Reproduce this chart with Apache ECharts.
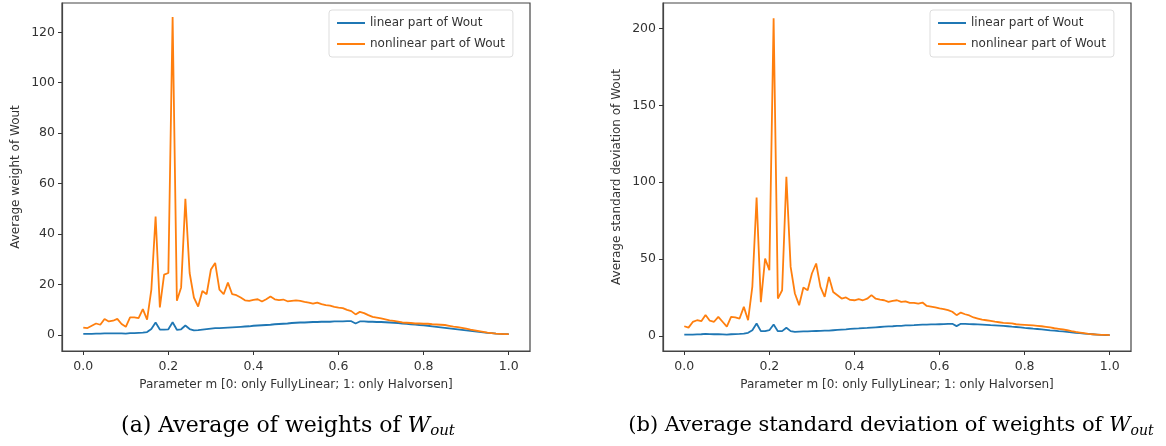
<!DOCTYPE html>
<html>
<head>
<meta charset="utf-8">
<script src="https://cdn.jsdelivr.net/npm/echarts@6/dist/echarts.min.js"></script>
<style>
  html, body { margin: 0; padding: 0; background: #fff; }
  #chart { width: 1166px; height: 446px; }
</style>
</head>
<body>
<div id="chart"></div>
<script>
// parameter m (x values, step 0.01)
const mValues = [
  0.00,0.01,0.02,0.03,0.04,0.05,0.06,0.07,0.08,0.09,
  0.10,0.11,0.12,0.13,0.14,0.15,0.16,0.17,0.18,0.19,
  0.20,0.21,0.22,0.23,0.24,0.25,0.26,0.27,0.28,0.29,
  0.30,0.31,0.32,0.33,0.34,0.35,0.36,0.37,0.38,0.39,
  0.40,0.41,0.42,0.43,0.44,0.45,0.46,0.47,0.48,0.49,
  0.50,0.51,0.52,0.53,0.54,0.55,0.56,0.57,0.58,0.59,
  0.60,0.61,0.62,0.63,0.64,0.65,0.66,0.67,0.68,0.69,
  0.70,0.71,0.72,0.73,0.74,0.75,0.76,0.77,0.78,0.79,
  0.80,0.81,0.82,0.83,0.84,0.85,0.86,0.87,0.88,0.89,
  0.90,0.91,0.92,0.93,0.94,0.95,0.96,0.97,0.98,0.99,
  1.00
];

// (a) average weight
const avgLinear = [
  0.5,0.5,0.5,0.6,0.6,0.7,0.7,0.7,0.7,0.7,
  0.6,0.8,0.8,0.9,1.0,1.2,2.4,5.0,2.2,2.2,
  2.3,5.1,2.1,2.3,3.8,2.4,1.9,2.0,2.2,2.4,
  2.6,2.8,2.8,2.9,3.0,3.1,3.2,3.3,3.4,3.5,
  3.7,3.8,3.9,4.0,4.1,4.3,4.4,4.5,4.6,4.8,
  4.9,5.0,5.0,5.1,5.2,5.2,5.3,5.3,5.3,5.4,
  5.4,5.4,5.5,5.5,4.6,5.4,5.4,5.3,5.3,5.2,
  5.2,5.1,5.0,4.9,4.8,4.6,4.5,4.3,4.2,4.0,
  3.9,3.7,3.5,3.3,3.1,2.9,2.7,2.5,2.3,2.1,
  1.9,1.7,1.5,1.3,1.1,0.9,0.8,0.6,0.5,0.4,
  0.4
];
const avgNonlinear = [
  3.0,2.8,3.7,4.6,4.1,6.4,5.4,5.7,6.4,4.4,
  3.3,7.0,7.0,6.7,10.3,6.1,18,47,11,24,
  24.6,126,13.6,18.9,54,24.6,14.9,11.3,17.5,16.2,
  26,28.6,18,16.2,20.8,16.2,15.8,14.9,13.8,13.6,
  14.0,14.2,13.3,14.2,15.3,14.2,13.9,14.1,13.4,13.6,
  13.8,13.6,13.2,12.9,12.5,12.9,12.3,11.9,11.7,11.2,
  10.9,10.7,10.0,9.5,8.2,9.2,8.7,7.9,7.2,6.9,
  6.6,6.2,5.8,5.6,5.3,5.0,4.9,4.8,4.6,4.6,
  4.5,4.5,4.3,4.2,4.1,4.0,3.7,3.4,3.2,2.9,
  2.6,2.2,1.9,1.6,1.3,1.0,0.8,0.6,0.5,0.4,
  0.4
];

// (b) average standard deviation
const stdLinear = [
  0.9,0.9,0.9,1.0,1.1,1.3,1.2,1.1,1.1,1.0,
  0.9,1.1,1.2,1.3,1.5,2.0,3.7,8.1,3.1,3.1,
  3.7,7.4,3.1,3.1,5.3,3.1,2.7,2.8,2.9,3.0,
  3.1,3.2,3.3,3.4,3.5,3.7,3.9,4.1,4.3,4.6,
  4.8,4.9,5.1,5.2,5.4,5.6,5.8,6.0,6.2,6.3,
  6.5,6.6,6.8,6.9,7.0,7.2,7.3,7.4,7.5,7.5,
  7.6,7.7,7.8,7.9,6.4,7.9,7.8,7.7,7.6,7.5,
  7.4,7.2,7.0,6.9,6.7,6.5,6.3,6.0,5.8,5.5,
  5.2,5.0,4.7,4.5,4.2,3.9,3.6,3.4,3.1,2.9,
  2.6,2.3,2.0,1.8,1.5,1.3,1.1,0.9,0.7,0.6,
  0.5
];
const stdNonlinear = [
  6.3,5.4,9.1,10.2,9.6,13.6,9.9,9.2,12.4,9.2,
  6.0,12.4,12.0,11.3,18.9,10.2,32,90,22,50.3,
  42.7,206.5,24.3,29.7,103.5,44.9,27.6,20,31.5,29.7,
  40.6,47.1,31.9,25.4,38.4,28.6,26.5,24.3,25,23.4,
  23.2,23.9,23.2,24.2,26.5,24.2,23.6,23.2,22.1,22.8,
  23.2,22.1,22.5,21.5,21.5,21.0,21.7,19.5,19.1,18.6,
  17.9,17.5,16.8,15.7,13.5,15.2,14.1,13.3,12.0,11.3,
  10.6,10.2,9.8,9.3,8.9,8.5,8.3,8.1,7.6,7.4,
  7.2,7.0,6.8,6.6,6.3,5.9,5.5,5.0,4.6,4.2,
  3.7,3.1,2.6,2.2,1.8,1.3,1.1,0.9,0.7,0.7,
  0.5
];

const xTicks = [0, 0.2, 0.4, 0.6, 0.8, 1.0];
const avgTicks = [0, 20, 40, 60, 80, 100, 120];
const stdTicks = [0, 50, 100, 150, 200];

const seriesNames = ['linear part of Wout', 'nonlinear part of Wout'];
const colors = ['#1f77b4', '#ff7f0e'];
const xName = 'Parameter m [0: only FullyLinear; 1: only Halvorsen]';

const font = 'DejaVu Sans';
const textColor = '#333';

function pairs(ys) {
  return mValues.map((m, i) => [m, ys[i]]);
}

function xAxis(idx) {
  return {
    type: 'value', gridIndex: idx, min: -0.05, max: 1.05,
    name: xName, nameLocation: 'middle', nameGap: 28,
    nameTextStyle: { fontFamily: font, fontSize: 12, color: textColor },
    axisLine: { show: true, onZero: false, lineStyle: { color: '#444', width: 1.2 } },
    splitLine: { show: false },
    axisTick: { show: true, inside: false, length: 4, customValues: xTicks, lineStyle: { color: '#333' } },
    axisLabel: { customValues: xTicks, margin: 9, fontFamily: font, fontSize: 12.5, color: textColor,
      formatter: v => v.toFixed(1) }
  };
}

function yAxis(idx, min, max, ticks, name, gap) {
  return {
    type: 'value', gridIndex: idx, min: min, max: max,
    name: name, nameLocation: 'middle', nameGap: gap, nameRotate: 90,
    nameTextStyle: { fontFamily: font, fontSize: 12, color: textColor },
    axisLine: { show: true, onZero: false, lineStyle: { color: '#444', width: 1.2 } },
    splitLine: { show: false },
    axisTick: { show: true, inside: false, length: 4, customValues: ticks, lineStyle: { color: '#333' } },
    axisLabel: { customValues: ticks, margin: 7, fontFamily: font, fontSize: 12.5, color: textColor }
  };
}

function line(name, color, idx, ys) {
  return {
    name: name, type: 'line', xAxisIndex: idx, yAxisIndex: idx,
    data: pairs(ys), symbol: 'none', animation: false,
    lineStyle: { color: color, width: 1.8 }, itemStyle: { color: color }
  };
}

function legend(left) {
  return {
    left: left, top: 10, orient: 'vertical',
    data: seriesNames,
    icon: 'rect',
    itemWidth: 28, itemHeight: 2, itemGap: 7,
    padding: [6, 8, 6, 8],
    borderColor: '#ddd', borderWidth: 1, borderRadius: 3,
    textStyle: { fontFamily: font, fontSize: 12, color: textColor, lineHeight: 14 }
  };
}

const captionRich = {
  w: { fontFamily: 'DejaVu Serif', fontSize: 22, fontStyle: 'italic', fill: '#000' },
  s: { fontFamily: 'DejaVu Serif', fontSize: 15, fontStyle: 'italic', fill: '#000', verticalAlign: 'bottom', padding: [10, 0, 0, 0] }
};

const chart = echarts.init(document.getElementById('chart'));
chart.setOption({
  backgroundColor: '#fff',
  animation: false,
  grid: [
    { left: 62, top: 3, width: 468, height: 348, show: true, borderColor: '#444', borderWidth: 1.2 },
    { left: 663, top: 3, width: 468, height: 348, show: true, borderColor: '#444', borderWidth: 1.2 }
  ],
  legend: [legend(329), legend(930)],
  xAxis: [xAxis(0), xAxis(1)],
  yAxis: [
    yAxis(0, -6.3, 131.6, avgTicks, 'Average weight of Wout', 40),
    yAxis(1, -9.8, 216.5, stdTicks, 'Average standard deviation of Wout', 40)
  ],
  series: [
    line(seriesNames[0], colors[0], 0, avgLinear),
    line(seriesNames[1], colors[1], 0, avgNonlinear),
    line(seriesNames[0], colors[0], 1, stdLinear),
    line(seriesNames[1], colors[1], 1, stdNonlinear)
  ],
  graphic: [
    {
      type: 'text', x: 288, y: 426,
      style: {
        text: '(a) Average of weights of {w|W}{s|out}',
        fontFamily: 'DejaVu Serif', fontSize: 22, fill: '#000',
        align: 'center', verticalAlign: 'middle', rich: captionRich
      }
    },
    {
      type: 'text', x: 891, y: 426,
      style: {
        text: '(b) Average standard deviation of weights of {w|W}{s|out}',
        fontFamily: 'DejaVu Serif', fontSize: 21, fill: '#000',
        align: 'center', verticalAlign: 'middle',
        rich: {
          w: { fontFamily: 'DejaVu Serif', fontSize: 21, fontStyle: 'italic', fill: '#000' },
          s: { fontFamily: 'DejaVu Serif', fontSize: 14, fontStyle: 'italic', fill: '#000', verticalAlign: 'bottom', padding: [10, 0, 0, 0] }
        }
      }
    }
  ]
});
</script>
</body>
</html>
